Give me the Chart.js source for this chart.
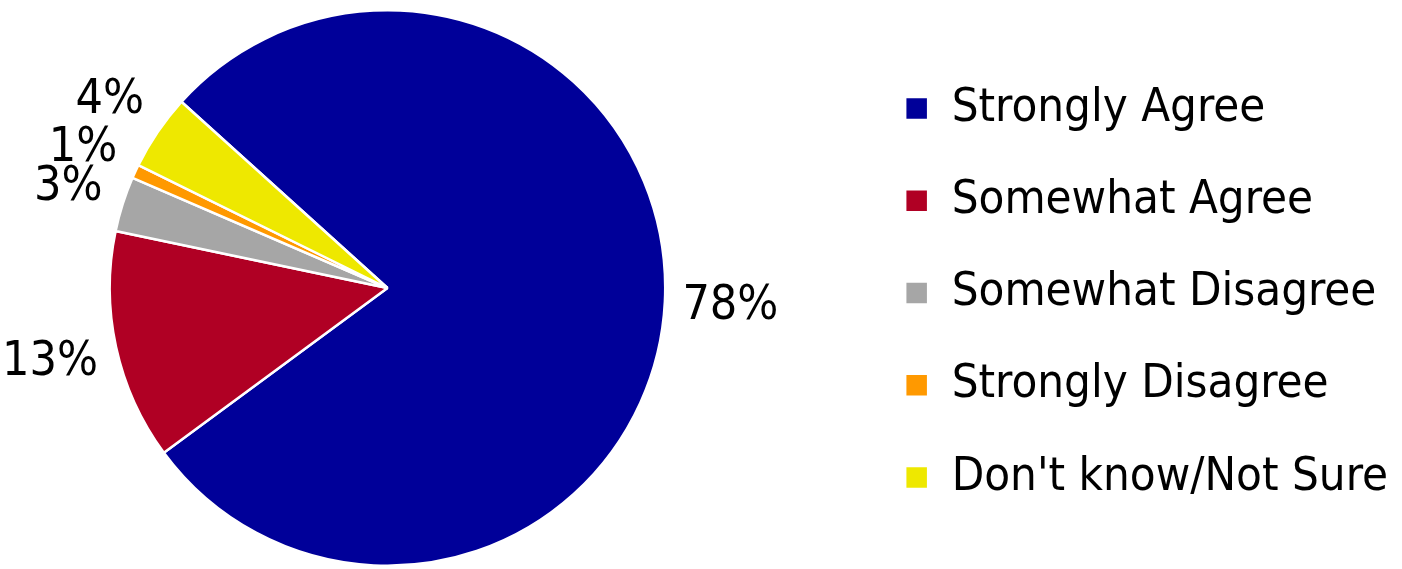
<!DOCTYPE html>
<html>
<head>
<meta charset="utf-8">
<script src="https://cdn.jsdelivr.net/npm/chart.js@4.4.1/dist/chart.umd.min.js"></script>
<style>
    html, body { margin: 0; padding: 0; background: #fff; overflow: hidden; }
    #contenedor { width: 1402px; height: 569px; overflow: hidden; position: relative; }
    /* el lienzo es más ancho y se corre a la izquierda para centrar la torta como en el original */
    #grafica { position: absolute; left: -85px; top: 0; }
</style>
</head>
<body>
<div id="contenedor"><canvas id="grafica" width="1487" height="569"></canvas></div>
<script>
// Datos de la gráfica
const categorias = ['Strongly Agree', 'Somewhat Agree', 'Somewhat Disagree', 'Strongly Disagree', "Don't know/Not Sure"];
const porcentajes = [78.2, 13.4, 3.2, 0.8, 4.4];
const colores = ['#000099', '#B00024', '#A6A6A6', '#FF9900', '#EEE800'];

const FUENTE = '"DejaVu Sans Condensed", "DejaVu Sans", sans-serif';

// Etiquetas de porcentaje fuera de cada porción
const etiquetasFuera = {
    id: 'etiquetasFuera',
    afterDatasetsDraw(chart) {
        const ctx = chart.ctx;
        const meta = chart.getDatasetMeta(0);
        ctx.save();
        ctx.font = '48px ' + FUENTE;
        ctx.fillStyle = '#000';
        ctx.textAlign = 'center';
        ctx.textBaseline = 'middle';
        meta.data.forEach((arco, i) => {
            const p = arco.getProps(['x', 'y', 'startAngle', 'endAngle', 'outerRadius'], true);
            const ang = (p.startAngle + p.endAngle) / 2;
            const texto = Math.round(porcentajes[i]) + '%';
            const w = ctx.measureText(texto).width * 0.85;
            const h = 35;
            const d = p.outerRadius + 24 + Math.abs(Math.cos(ang)) * w / 2 + Math.abs(Math.sin(ang)) * h / 2;
            ctx.fillText(texto, p.x + Math.cos(ang) * d, p.y + Math.sin(ang) * d + 1);
        });
        ctx.restore();
    }
};

const ctx = document.getElementById('grafica');
window.chartInstance = new Chart(ctx, {
    type: 'pie',
    data: {
        labels: categorias,
        datasets: [{
            data: porcentajes,
            backgroundColor: colores,
            borderColor: '#ffffff',
            borderWidth: 2.5
        }]
    },
    options: {
        responsive: false,
        animation: false,
        rotation: -47.9,
        layout: {
            padding: { left: 0, top: 9, bottom: 2, right: 4 }
        },
        plugins: {
            legend: {
                position: 'right',
                align: 'center',
                // título vacío solo para bajar un poco los elementos
                title: { display: true, text: '', padding: 0, font: { size: 10, lineHeight: 1 } },
                labels: {
                    boxWidth: 23,
                    boxHeight: 23,
                    padding: 45.25,
                    color: '#000',
                    font: { family: FUENTE, size: 47 }
                }
            },
            tooltip: { enabled: false }
        }
    },
    plugins: [etiquetasFuera]
});
</script>
</body>
</html>
